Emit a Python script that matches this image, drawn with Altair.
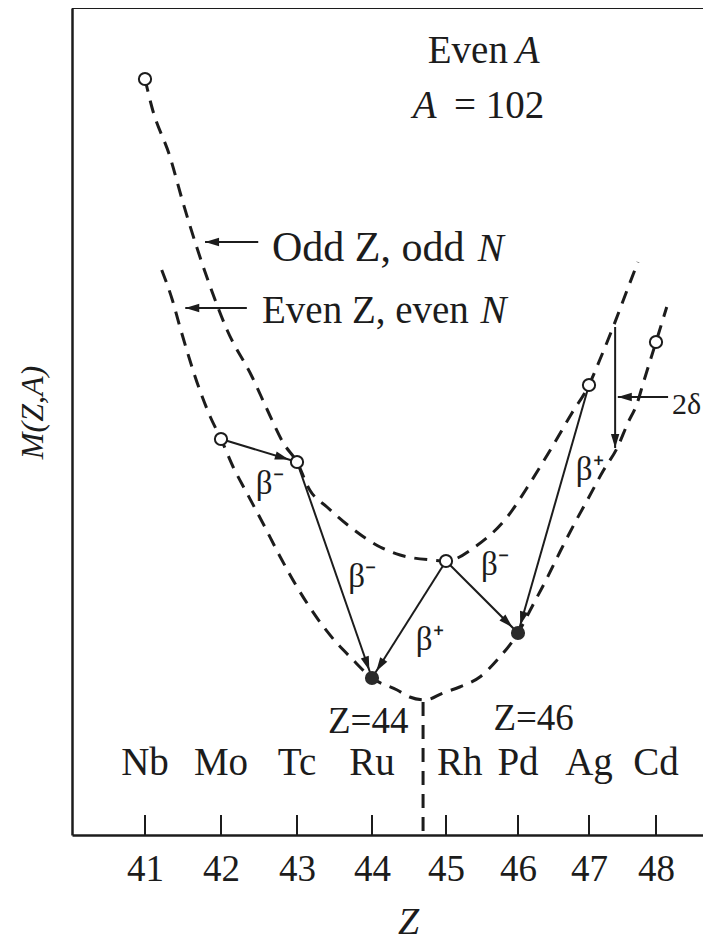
import math
import altair as alt
import numpy as np
import pandas as pd

# ---------------- values ----------------
TICK_Z = [41, 42, 43, 44, 45, 46, 47, 48]
ELEMENTS = ["Nb", "Mo", "Tc", "Ru", "Rh", "Pd", "Ag", "Cd"]
ELEMENT_LABEL_Z = [41, 42, 43, 44, 45.19, 46, 47, 48]
ELEMENT_LABEL_M = 6.0

NUCLIDE_Z = [41, 42, 43, 44, 45, 46, 47, 48]
NUCLIDE_M = [75.6, 39.6, 37.3, 15.7, 27.4, 20.2, 45.0, 49.3]
NUCLIDE_STABLE = [False, False, False, True, False, True, False, False]

# odd Z, odd N parabola (dashed)
ODD_Z = [41.00, 41.09, 41.33, 41.49, 41.68, 41.86, 42.08, 42.41, 42.61, 42.82,
         43.00, 43.17, 43.40, 43.71, 44.11, 44.38, 44.80, 45.00, 45.42, 45.85,
         46.17, 46.48, 46.76, 47.00, 47.16, 47.36, 47.57, 47.73]
ODD_M = [75.6, 72.8, 67.8, 63.5, 58.8, 54.8, 50.5, 45.8, 42.5, 39.2,
         37.3, 34.5, 32.8, 30.8, 28.8, 28.0, 27.5, 27.4, 28.9, 31.8,
         35.2, 38.8, 42.2, 45.0, 47.5, 50.8, 54.5, 57.3]

# even Z, even N parabola (dashed)
EVEN_Z = [41.22, 41.36, 41.46, 41.72, 41.86, 42.00, 42.16, 42.34, 42.55, 42.78,
          43.00, 43.53, 43.71, 44.00, 44.34, 44.51, 44.72, 44.96, 45.19, 45.47,
          45.71, 46.00, 46.21, 46.41, 46.59, 46.80, 47.00, 47.21, 47.42, 47.58,
          47.72, 47.81, 48.00, 48.16]
EVEN_M = [56.5, 53.5, 50.8, 44.5, 41.8, 39.6, 36.8, 34.2, 31.2, 27.8,
          24.8, 19.2, 17.8, 15.7, 14.5, 13.8, 13.5, 14.2, 14.8, 15.8,
          17.5, 20.2, 23.0, 25.7, 28.3, 31.2, 33.8, 36.4, 38.7, 41.2,
          43.2, 45.2, 49.3, 52.8]

DIVIDE_Z = [44.69]
DIVIDE_TOP_M = [13.3]

# decay arrows between nuclides
DECAY_FROM = ["Mo", "Tc", "Rh", "Rh", "Ag"]
DECAY_TO = ["Tc", "Ru", "Ru", "Pd", "Pd"]
DECAY_LABEL = ["β⁻", "β⁻", "β⁺", "β⁻", "β⁺"]
DECAY_LABEL_Z = [42.64, 43.87, 44.78, 45.68, 47.01]
DECAY_LABEL_M = [35.1, 25.8, 19.5, 27.0, 36.5]

# annotation arrows: 2δ gap, 2δ pointer, odd-odd pointer, even-even pointer
NOTE_FROM_Z = [47.39, 48.18, 42.49, 42.34]
NOTE_FROM_M = [50.8, 43.8, 59.3, 52.7]
NOTE_TO_Z = [47.39, 47.43, 41.79, 41.53]
NOTE_TO_M = [38.7, 43.8, 59.3, 52.7]

# text annotations
TOP_ROMAN_T = ["= 102"]
TOP_ROMAN_Z = [45.11]
TOP_ROMAN_M = [71.7]
ODD_NOTE_T = ["Odd Z, odd"]
ODD_NOTE_Z = [42.67]
ODD_NOTE_M = [57.4]
EVEN_NOTE_T = ["Even Z, even"]
EVEN_NOTE_Z = [42.54]
EVEN_NOTE_M = [51.2]
ROMAN_RIGHT_T = ["Even"]
ROMAN_RIGHT_Z = [45.86]
ROMAN_RIGHT_M = [77.2]
ITALIC_LEFT_T = ["A", "A", "N", "N"]
ITALIC_LEFT_Z = [45.97, 44.55, 45.44, 45.48]
ITALIC_LEFT_M = [77.2, 71.7, 57.4, 51.2]
ZLABEL_T = ["Z=44", "Z=46"]
ZLABEL_Z = [43.95, 46.22]
ZLABEL_M = [10.2, 10.5]
DELTA_T = ["2δ"]
DELTA_Z = [48.24]
DELTA_M = [42.1]

# ---------------- layout / style ----------------
W, H = 631, 827
M_MAX = 82.7
SCALE_Z = [40.04, 41, 42, 43, 44, 45, 46, 47, 48, 48.70]
SCALE_PX = [0, 73, 149, 225, 300, 374, 446, 517, 584, 631]
INK = "#1c1c1c"
SERIF = "Liberation Serif, Times New Roman, serif"
BIG = 39
HEAD_SIZE = 196
OPEN_SIZE = 150
FILLED_SIZE = 200

x_scale = alt.Scale(domain=SCALE_Z, range=SCALE_PX, zero=False, nice=False)
y_scale = alt.Scale(domain=[0, M_MAX], zero=False, nice=False)

x_axis = alt.Axis(values=TICK_Z, format="d", ticks=False, tickSize=0,
                  labelFont=SERIF, labelFontSize=37, labelColor=INK,
                  labelPadding=45, labelBaseline="alphabetic", labelFlush=False,
                  labelOverlap=False, domainColor=INK, domainWidth=2.5, grid=False,
                  title="Z", titleFont=SERIF, titleFontSize=38, titleFontStyle="italic",
                  titleFontWeight="normal", titleColor=INK, titleBaseline="alphabetic",
                  titleX=336, titleY=98)
y_axis = alt.Axis(ticks=False, tickSize=0, labels=False, domainColor=INK,
                  domainWidth=2.5, grid=False, title="M(Z,A)", titleFont=SERIF,
                  titleFontSize=32, titleFontStyle="italic", titleFontWeight="normal",
                  titleColor=INK, titleBaseline="alphabetic", titleX=-30, titleY=404)


def X(field):
    return alt.X(field, type="quantitative", scale=x_scale, axis=x_axis)


def Y(field):
    return alt.Y(field, type="quantitative", scale=y_scale, axis=y_axis)


def px_x(z):
    return float(np.interp(z, SCALE_Z, SCALE_PX))


def px_y(m):
    return H * (1 - m / M_MAX)


def head(z1, m1, z2, m2, gap):
    ang = math.degrees(math.atan2(px_y(m2) - px_y(m1), px_x(z2) - px_x(z1))) % 360
    s = math.sqrt(HEAD_SIZE) / 2
    t = -gap / s
    path = f"M{t:.3f},0 L{t - 2:.3f},-0.6 L{t - 2:.3f},0.6 Z"
    return ang, path


# ---------------- tables ----------------
nuc = pd.DataFrame({"name": ELEMENTS, "z": NUCLIDE_Z, "m": NUCLIDE_M,
                    "stable": NUCLIDE_STABLE})
pos = {n: (z, m, s) for n, z, m, s in zip(ELEMENTS, NUCLIDE_Z, NUCLIDE_M, NUCLIDE_STABLE)}

rows = []
for a, b in zip(DECAY_FROM, DECAY_TO):
    z1, m1, _ = pos[a]
    z2, m2, st = pos[b]
    gap = 8.0 if st else 8.5
    ang, path = head(z1, m1, z2, m2, gap)
    rows.append({"z1": z1, "m1": m1, "z2": z2, "m2": m2, "angle": ang, "path": path})
for z1, m1, z2, m2 in zip(NOTE_FROM_Z, NOTE_FROM_M, NOTE_TO_Z, NOTE_TO_M):
    ang, path = head(z1, m1, z2, m2, 0.0)
    rows.append({"z1": z1, "m1": m1, "z2": z2, "m2": m2, "angle": ang, "path": path})
arrows = pd.DataFrame(rows)

curves = pd.concat([
    pd.DataFrame({"z": ODD_Z, "m": ODD_M, "family": "odd"}),
    pd.DataFrame({"z": EVEN_Z, "m": EVEN_M, "family": "even"}),
])

divide = pd.DataFrame({"z": DIVIDE_Z, "m": DIVIDE_TOP_M, "m0": [0.0]})
ticks = pd.DataFrame({"z": TICK_Z})
elem = pd.DataFrame({"t": ELEMENTS, "z": ELEMENT_LABEL_Z, "m": ELEMENT_LABEL_M})
decay_lab = pd.DataFrame({"t": DECAY_LABEL, "z": DECAY_LABEL_Z, "m": DECAY_LABEL_M})

# ---------------- layers ----------------
frame_top = alt.Chart(pd.DataFrame({"k": [0]})).mark_rule(color=INK, strokeWidth=2).encode(
    x=alt.value(0), x2=alt.value(W), y=alt.value(0))

curve_layer = alt.Chart(curves).mark_line(
    color=INK, strokeWidth=3, strokeDash=[13, 9], interpolate="monotone"
).encode(x=X("z"), y=Y("m"), detail="family:N")

divide_layer = alt.Chart(divide).mark_rule(
    color=INK, strokeWidth=3, strokeDash=[14, 9]
).encode(x=X("z"), y=Y("m"), y2="m0")

tick_layer = alt.Chart(ticks).mark_rule(color=INK, strokeWidth=2).encode(
    x=X("z"), y=alt.value(H - 20), y2=alt.value(H))

arrow_lines = alt.Chart(arrows).mark_rule(color=INK, strokeWidth=2).encode(
    x=X("z1"), y=Y("m1"), x2="z2", y2="m2")

arrow_heads = alt.Chart(arrows).mark_point(
    filled=True, color=INK, size=HEAD_SIZE, opacity=1, strokeWidth=0
).encode(x=X("z2"), y=Y("m2"),
         shape=alt.Shape("path:N", scale=None),
         angle=alt.Angle("angle:Q", scale=None))

open_pts = alt.Chart(nuc[~nuc["stable"]]).mark_circle(
    fill="white", stroke=INK, strokeWidth=2, size=OPEN_SIZE, opacity=1, fillOpacity=1
).encode(x=X("z"), y=Y("m"))

stable_pts = alt.Chart(nuc[nuc["stable"]]).mark_circle(
    color="#2a2a2a", size=FILLED_SIZE, opacity=1
).encode(x=X("z"), y=Y("m"))


def text_layer(df, align, italic=False, size=BIG, baseline="alphabetic"):
    return alt.Chart(df).mark_text(
        align=align, baseline=baseline, font=SERIF, fontSize=size,
        fontStyle="italic" if italic else "normal", color=INK
    ).encode(x=X("z"), y=Y("m"), text="t:N")


t_elem = text_layer(elem, "center")
t_decay = text_layer(decay_lab, "center", size=33, baseline="middle")
t_top = text_layer(pd.DataFrame({"t": TOP_ROMAN_T, "z": TOP_ROMAN_Z, "m": TOP_ROMAN_M}), "left")
t_odd = text_layer(pd.DataFrame({"t": ODD_NOTE_T, "z": ODD_NOTE_Z, "m": ODD_NOTE_M}), "left", size=42)
t_even = text_layer(pd.DataFrame({"t": EVEN_NOTE_T, "z": EVEN_NOTE_Z, "m": EVEN_NOTE_M}), "left", size=39)
t_rr = text_layer(pd.DataFrame({"t": ROMAN_RIGHT_T, "z": ROMAN_RIGHT_Z, "m": ROMAN_RIGHT_M}), "right")
t_il = text_layer(pd.DataFrame({"t": ITALIC_LEFT_T, "z": ITALIC_LEFT_Z, "m": ITALIC_LEFT_M}), "left", italic=True)
t_zl = text_layer(pd.DataFrame({"t": ZLABEL_T, "z": ZLABEL_Z, "m": ZLABEL_M}), "center", size=37)
t_delta = text_layer(pd.DataFrame({"t": DELTA_T, "z": DELTA_Z, "m": DELTA_M}), "left", size=30)

chart = alt.layer(
    frame_top, curve_layer, divide_layer, tick_layer, arrow_lines, arrow_heads,
    open_pts, stable_pts, t_elem, t_decay, t_top, t_odd, t_even, t_rr, t_il,
    t_zl, t_delta
).properties(
    width=W, height=H,
    autosize=alt.AutoSizeParams(type="none"),
    padding={"left": 64, "top": 0, "right": 0, "bottom": 107},
    background="white",
).configure_view(stroke=None)

chart.save("out.html", embed_options={"renderer": "svg", "actions": False})
